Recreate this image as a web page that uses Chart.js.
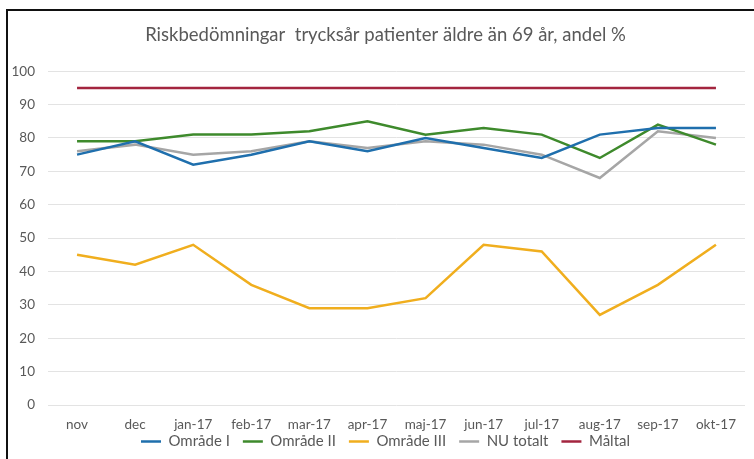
<!DOCTYPE html>
<html>
<head>
<meta charset="utf-8">
<script src="https://cdn.jsdelivr.net/npm/chart.js@4/dist/chart.umd.min.js"></script>
<style>
  body { margin: 0; background: #fff; }
  #wrap { position: relative; width: 754px; height: 459px; overflow: hidden; }
  #frame {
    position: absolute; left: 6px; top: 9px; width: 800px; height: 500px;
    border-top: 2px solid #111; border-left: 2px solid #111;
  }
  canvas { position: absolute; left: 0; top: 0; }
</style>
</head>
<body>
<div id="wrap">
  <div id="frame"></div>
  <canvas id="chart" width="754" height="459"></canvas>
</div>
<script>
const months = ["nov", "dec", "jan-17", "feb-17", "mar-17", "apr-17", "maj-17", "jun-17", "jul-17", "aug-17", "sep-17", "okt-17"];
const omrade1 = [75, 79, 72, 75, 79, 76, 80, 77, 74, 81, 83, 83];
const omrade2 = [79, 79, 81, 81, 82, 85, 81, 83, 81, 74, 84, 78];
const omrade3 = [45, 42, 48, 36, 29, 29, 32, 48, 46, 27, 36, 48];
const nuTotalt = [76, 78, 75, 76, 79, 77, 79, 78, 75, 68, 82, 80];
const maltal = [95, 95, 95, 95, 95, 95, 95, 95, 95, 95, 95, 95];

const grey = "#595959";
Chart.defaults.font.family = "Lato, 'Open Sans', sans-serif";

function line(label, data, color) {
    return {
        label: label,
        data: data,
        borderColor: color,
        backgroundColor: color,
        borderWidth: 2.5,
        pointRadius: 0,
        tension: 0,
        fill: false
    };
}

// tick labels are clipped to their axis box, so widen the boxes after layout
const growAxes = {
    id: "growAxes",
    afterLayout(chart) {
        chart.scales.x.bottom = chart.scales.x.top + 34;
        chart.scales.y.left = 0;
    }
};

const ctx = document.getElementById("chart").getContext("2d");
new Chart(ctx, {
    type: "line",
    data: {
        labels: months,
        datasets: [
            line("Område I", omrade1, "#1F6FAD"),
            line("Område II", omrade2, "#3E8A2C"),
            line("Område III", omrade3, "#F0AE1E"),
            line("NU totalt", nuTotalt, "#A6A6A6"),
            line("Måltal", maltal, "#A3253F")
        ]
    },
    plugins: [growAxes],
    options: {
        responsive: false,
        animation: false,
        layout: { padding: { left: 26, right: 9, top: 0, bottom: 0 } },
        plugins: {
            title: {
                display: true,
                text: "Riskbedömningar  trycksår patienter äldre än 69 år, andel %",
                color: grey,
                font: { size: 18.5, weight: "normal" },
                padding: { top: 24, bottom: 25 }
            },
            legend: {
                position: "bottom",
                labels: {
                    color: grey,
                    font: { size: 15 },
                    usePointStyle: true,
                    pointStyle: "line",
                    pointStyleWidth: 20,
                    padding: 13
                }
            },
            tooltip: { enabled: false }
        },
        scales: {
            x: {
                offset: true,
                grid: { display: false, drawTicks: false },
                border: { display: false },
                ticks: { color: grey, font: { size: 13.5 }, padding: 12, maxRotation: 0, autoSkip: false },
                afterFit: (s) => { s.height = 16; }
            },
            y: {
                min: 0,
                max: 100,
                ticks: { stepSize: 10, color: grey, font: { size: 13.5 }, padding: 13 },
                grid: { color: "#E3E3E3", drawTicks: false },
                border: { display: false },
                afterFit: (s) => { s.width = 22; }
            }
        }
    }
});
</script>
</body>
</html>
